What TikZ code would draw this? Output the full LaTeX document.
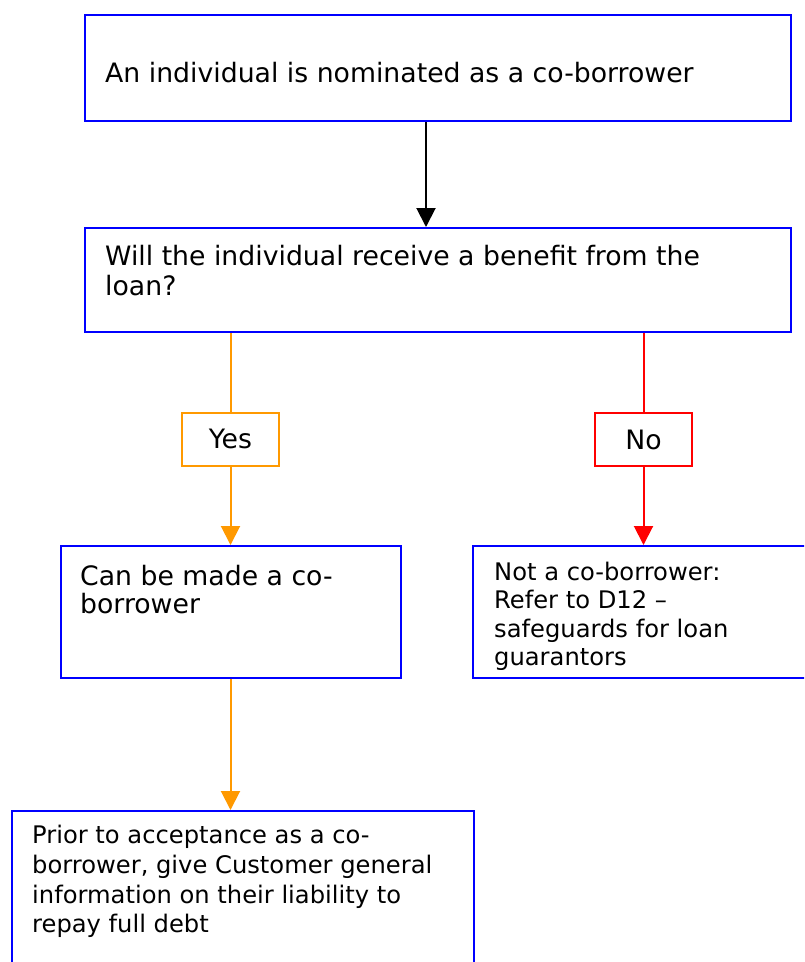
\documentclass[tikz,border=0pt]{standalone}
\usepackage{fontspec}
\setmainfont{DejaVu Sans}
\usetikzlibrary{arrows.meta}
\definecolor{boxblue}{HTML}{0000FF}
\definecolor{yesorange}{HTML}{FF9900}
\definecolor{nored}{HTML}{FF0000}
\tikzset{
  box/.style={draw=boxblue, line width=2pt, anchor=north west, inner sep=0pt},
  tagbox/.style={line width=2pt, anchor=north west, inner sep=0pt,
    minimum width=97pt, minimum height=53pt},
  txt/.style={anchor=base west, inner sep=0pt, font=\fontsize{26.7}{30}\selectfont},
  smalltxt/.style={txt, font=\fontsize{24.2}{29}\selectfont},
  tagtxt/.style={anchor=base, inner sep=0pt, font=\fontsize{26.7}{30}\selectfont},
  tip/.style={-{Triangle[width=19pt,length=19pt]}},
  flow/.style={line width=2pt},
}
\begin{document}
\begin{tikzpicture}[x=1pt,y=-1pt]
\useasboundingbox (0,0) rectangle (804,962);
\clip (0,0) rectangle (804,962);

% boxes
\node[box, minimum width=706pt, minimum height=106pt] (b1) at (84,14) {};
\node[box, minimum width=706pt, minimum height=104pt] (b2) at (84,227) {};
\node[box, minimum width=340pt, minimum height=132pt] (b3) at (60,545) {};
\node[box, minimum width=360pt, minimum height=132pt] (b4) at (472,545) {};
\node[box, minimum width=462pt, minimum height=220pt] (b5) at (11,810) {};
\node[tagbox, draw=yesorange] (yes) at (181,412) {};
\node[tagbox, draw=nored] (no) at (594,412) {};

% texts
\node[txt] (t1) at (105,82) {An individual is nominated as a co-borrower};
\node[txt] (t2a) at (105,265) {Will the individual receive a benefit from the};
\node[txt] (t2b) at (105,295) {loan?};
\node[txt] (t3a) at (80,585) {Can be made a co-};
\node[txt] (t3b) at (80,613) {borrower};
% the text of this box runs past its text area and is cut off
\begin{scope}
  \clip (b4.north west) rectangle ([yshift=10pt]b4.south east);
  \node[smalltxt] (t4a) at (494,580) {Not a co-borrower:};
  \node[smalltxt] (t4b) at (494,608) {Refer to D12 –};
  \node[smalltxt] (t4c) at (494,637) {safeguards for loan};
  \node[smalltxt] (t4d) at (494,665) {guarantors};
\end{scope}
\node[smalltxt] (t5a) at (32,843) {Prior to acceptance as a co-};
\node[smalltxt] (t5b) at (32,873) {borrower, give Customer general};
\node[smalltxt] (t5c) at (32,903) {information on their liability to};
\node[smalltxt] (t5d) at (32,932) {repay full debt};
\node[tagtxt] (tyes) at (yes.center |- 0,448) {Yes};
\node[tagtxt] (tno) at (no.center |- 0,449) {No};

% connectors
\draw[flow, tip, black] ([xshift=-12pt]b1.south) -- ([xshift=-12pt]b2.north);
\draw[flow, yesorange] (yes.north |- b2.south) -- (yes.north);
\draw[flow, tip, yesorange] (yes.south) -- (yes.south |- b3.north);
\draw[flow, nored] (no.north |- b2.south) -- (no.north);
\draw[flow, tip, nored] (no.south) -- (no.south |- b4.north);
\draw[flow, tip, yesorange] (yes.south |- b3.south) -- (yes.south |- b5.north);
\end{tikzpicture}
\end{document}
